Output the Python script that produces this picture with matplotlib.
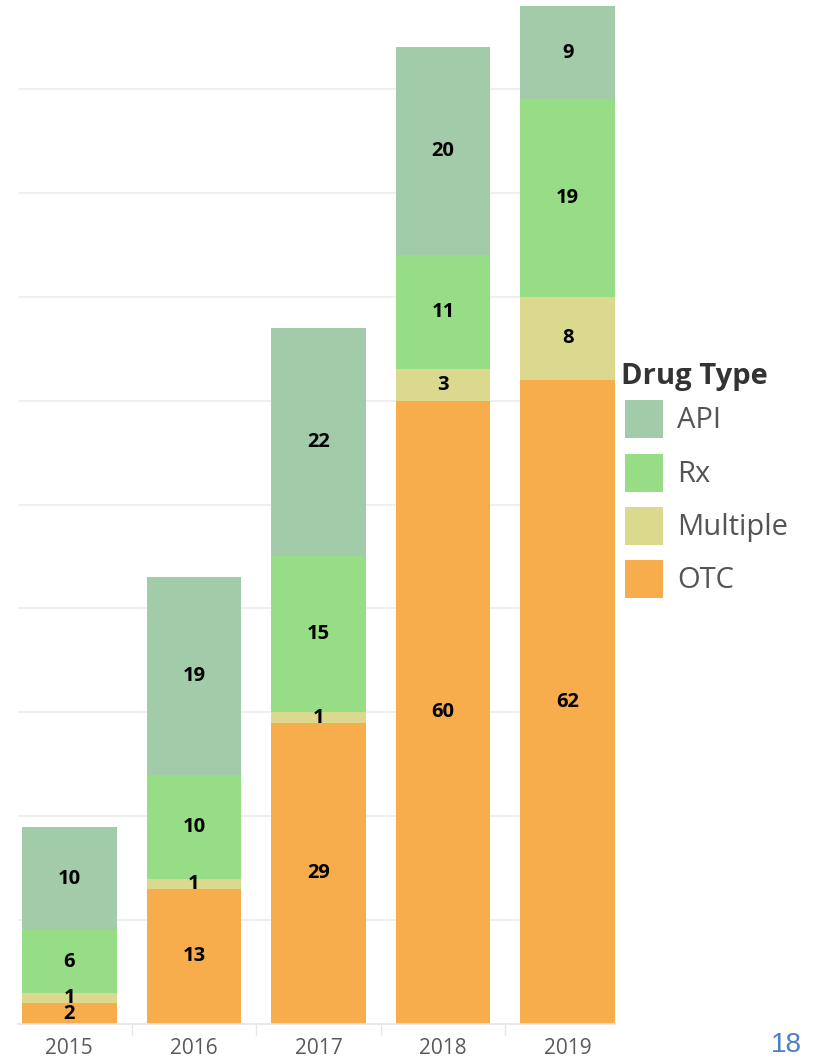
import matplotlib
matplotlib.use("Agg")
import matplotlib.pyplot as plt
from matplotlib.patches import Rectangle
import numpy as np

# Counts per year, stacked bottom to top: OTC, Multiple, Rx, API
years = ["2015", "2016", "2017", "2018", "2019"]
otc = [2, 13, 29, 60, 62]
multiple = [1, 1, 1, 3, 8]
rx = [6, 10, 15, 11, 19]
api = [10, 19, 22, 20, 9]

series_names = ["OTC", "Multiple", "Rx", "API"]
series_values = [otc, multiple, rx, api]
series_colors = {
    "API": "#a2cba9",
    "Rx": "#96dd85",
    "Multiple": "#dbd98e",
    "OTC": "#f8ad4c",
}
legend_order = ["API", "Rx", "Multiple", "OTC"]

W, H = 821, 1058
fig = plt.figure(figsize=(W / 100, H / 100), dpi=100)

ax_left, ax_right = 18, 615
ax_bottom_px, ax_top_px = 1024, 0
ax = fig.add_axes([ax_left / W, (H - ax_bottom_px) / H,
                   (ax_right - ax_left) / W, (ax_bottom_px - ax_top_px) / H])

x = np.arange(len(years))
bar_w = 0.76
bottom = np.zeros(len(years))
for name, vals in zip(series_names, series_values):
    vals = np.array(vals, dtype=float)
    ax.bar(x, vals, bar_w, bottom=bottom, color=series_colors[name],
           linewidth=0, zorder=2)
    for xi, b, v in zip(x, bottom, vals):
        if v > 0:
            ax.text(xi, b + v / 2, f"{int(v)}", ha="center", va="center",
                    fontsize=14.5, fontweight="bold", color="black",
                    family="Open Sans", zorder=3)
    bottom += vals

ax.set_xlim(-0.412, 4.38)
ax.set_ylim(0, 98.56)

ax.set_yticks(np.arange(10, 100, 10))
ax.yaxis.grid(True, color="#ececec", linewidth=1.2, zorder=0)
ax.tick_params(axis="y", left=False, labelleft=False)

ax.set_xticks(x)
ax.set_xticklabels(years, fontsize=15, color="#5a5a5a", family="Open Sans")
ax.tick_params(axis="x", length=0, pad=10)
ax.set_xticks(x[:-1] + 0.5, minor=True)
ax.tick_params(axis="x", which="minor", length=8, width=1, color="#e6e6e6")

for side in ["top", "right", "left"]:
    ax.spines[side].set_visible(False)
ax.spines["bottom"].set_color("#e4e4e4")
ax.spines["bottom"].set_linewidth(1.2)

# Legend drawn in figure pixel coordinates
def fx(px):
    return px / W

def fy(py):
    return 1 - py / H

fig.text(fx(621), fy(376), "Drug Type", fontsize=21, fontweight="bold",
         color="#333333", family="Open Sans", ha="left", va="center")
sw_top = [400, 454, 507, 560]
for name, top in zip(legend_order, sw_top):
    fig.patches.append(Rectangle((fx(625), fy(top + 38)), 38 / W, 38 / H,
                                 transform=fig.transFigure,
                                 facecolor=series_colors[name], edgecolor="none"))
    fig.text(fx(677), fy(top + 21), name, fontsize=21, color="#555555",
             family="Open Sans", ha="left", va="center")

fig.text(fx(786), fy(1045), "18", fontsize=20, color="#4a7fcf",
         family="Liberation Sans", ha="center", va="center")

fig.savefig("out.png", dpi=100)
